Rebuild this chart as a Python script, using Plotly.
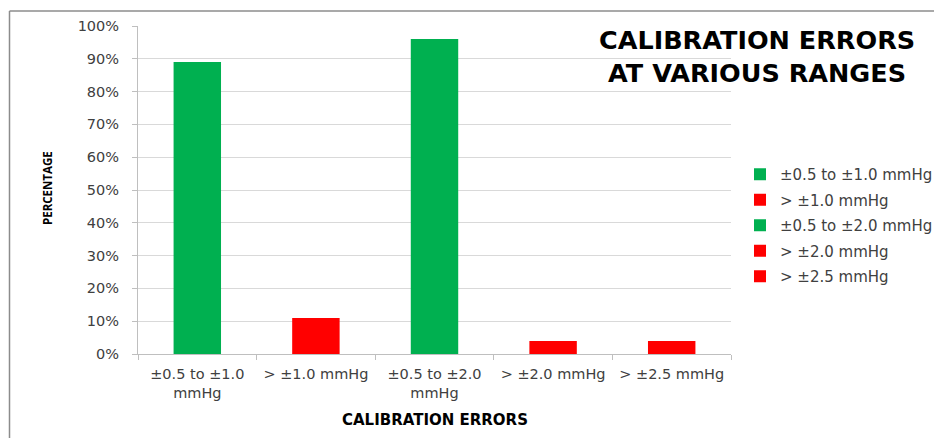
import plotly.graph_objects as go

categories = ["±0.5 to ±1.0 mmHg", "> ±1.0 mmHg", "±0.5 to ±2.0 mmHg", "> ±2.0 mmHg", "> ±2.5 mmHg"]
tick_labels = ["±0.5 to ±1.0<br>mmHg", "> ±1.0 mmHg", "±0.5 to ±2.0<br>mmHg", "> ±2.0 mmHg", "> ±2.5 mmHg"]
values = [0.89, 0.11, 0.96, 0.04, 0.04]
colors = ["#00B050", "#FF0000", "#00B050", "#FF0000", "#FF0000"]
y_ticks = [0, 0.1, 0.2, 0.3, 0.4, 0.5, 0.6, 0.7, 0.8, 0.9, 1.0]

OFF = 8  # default page body margin
W, H = 942 - OFF, 438 - OFF
PX0, PX1, PY0, PY1 = 138, 731, 26, 354  # plot area in page pixels
L, R, T, B = PX0 - OFF, W - (PX1 - OFF), PY0 - OFF, H - (PY1 - OFF)
PW, PH = PX1 - PX0, PY1 - PY0


def px(x):
    return (x - PX0) / PW


def py(y):
    return (PY1 - y) / PH


TXT = "#404040"

fig = go.Figure()
for i, (c, v, col) in enumerate(zip(categories, values, colors)):
    fig.add_trace(go.Bar(
        x=[tick_labels[i]], y=[v], name=c, marker=dict(color=col, line=dict(width=0)),
        width=0.4, legendgroup=f"g{i}", hoverinfo="skip"))

fig.update_layout(
    width=W, height=H, barmode="overlay",
    margin=dict(l=L, r=R, t=T, b=B, autoexpand=False),
    paper_bgcolor="white", plot_bgcolor="white",
    font=dict(family="DejaVu Sans", size=14, color=TXT),
    showlegend=True,
    legend=dict(x=px(740), y=py(158), xanchor="left", yanchor="top",
                font=dict(family="DejaVu Sans", size=15, color=TXT),
                traceorder="grouped", tracegroupgap=3, itemwidth=30,
                bgcolor="rgba(0,0,0,0)"),
    xaxis=dict(categoryorder="array", categoryarray=tick_labels, showgrid=False,
               showline=True, linecolor="#BFBFBF", linewidth=1,
               ticks="outside", tickson="boundaries", ticklen=5, tickcolor="#BFBFBF",
               ticklabelstandoff=7,
               tickfont=dict(family="DejaVu Sans", size=14.5, color=TXT)),
    yaxis=dict(range=[0, 1.0], tickvals=y_ticks, tickformat=".0%",
               showgrid=True, gridcolor="#D9D9D9", gridwidth=1,
               showline=True, linecolor="#BFBFBF", linewidth=1,
               ticks="outside", ticklen=5, tickcolor="#BFBFBF", zeroline=False,
               ticklabelstandoff=10,
               tickfont=dict(family="DejaVu Sans", size=14.5, color=TXT)),
)

fig.add_annotation(text="<b>CALIBRATION ERRORS<br>AT VARIOUS RANGES</b>", xref="paper", yref="paper",
                   x=px(757), y=py(57), xanchor="center", yanchor="middle",
                   showarrow=False, align="center",
                   font=dict(family="DejaVu Sans", size=25.5, color="#000000"))
fig.add_annotation(text="<b>PERCENTAGE</b>", xref="paper", yref="paper",
                   x=px(47), y=py(188), xanchor="center", yanchor="middle",
                   textangle=-90, showarrow=False,
                   font=dict(family="Open Sans", size=11.5, color="#000000"))
fig.add_annotation(text="<b>CALIBRATION ERRORS</b>", xref="paper", yref="paper",
                   x=px(435), y=py(420), xanchor="center", yanchor="middle",
                   showarrow=False,
                   font=dict(family="DejaVu Sans", size=15, color="#000000"))

# outer frame lines
fig.add_shape(type="line", xref="paper", yref="paper",
              x0=px(9.5), x1=px(960), y0=py(11), y1=py(11),
              line=dict(color="#8C8C8C", width=1.5))
fig.add_shape(type="line", xref="paper", yref="paper",
              x0=px(9.5), x1=px(9.5), y0=py(11), y1=py(460),
              line=dict(color="#8C8C8C", width=1.5))

fig.write_html("out.html")
